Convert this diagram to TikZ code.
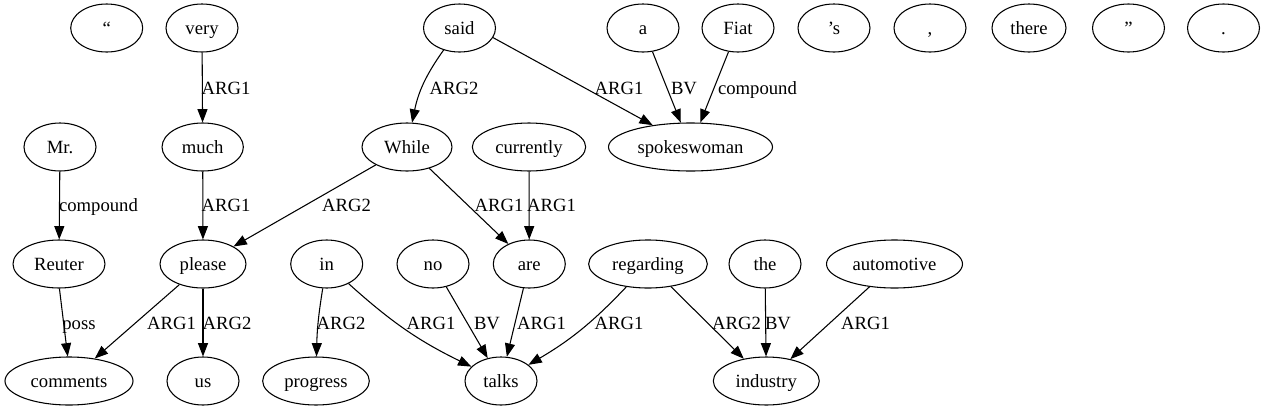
\documentclass[tikz,border=0pt]{standalone}
\usepackage{fontspec}
\setmainfont{Liberation Serif}
\usetikzlibrary{shapes.geometric,arrows.meta}
\begin{document}
\begin{tikzpicture}[x=0.75pt,y=-0.75pt,
  nd/.style={ellipse,draw,line width=0.8pt,inner sep=0pt,minimum height=36pt,minimum width=54pt,text height=12pt,text depth=3pt,font=\fontsize{14pt}{16pt}\selectfont},
  edge/.style={line width=0.8pt,-{Triangle[length=10pt,width=7.5pt]}},
  lab/.style={inner sep=0pt,text height=12pt,text depth=3pt,font=\fontsize{14pt}{16pt}\selectfont}]
\useasboundingbox (0,0) rectangle (1265,411);
% row 1
\node[nd] (lq) at (106.7,28) {“};
\node[nd] (very) at (202,28) {very};
\node[nd] (said) at (459.5,28) {said};
\node[nd] (a) at (643,28) {a};
\node[nd] (Fiat) at (738,28) {Fiat};
\node[nd] (apos) at (834,28) {’s};
\node[nd] (comma) at (930,28) {,};
\node[nd,minimum width=55.5pt] (there) at (1029,28) {there};
\node[nd] (rq) at (1128.5,28) {”};
\node[nd] (period) at (1223.5,28) {.};
% row 2
\node[nd] (Mr) at (60,147) {Mr.};
\node[nd,minimum width=61pt] (much) at (202.7,147) {much};
\node[nd,minimum width=67.5pt] (While) at (407,147) {While};
\node[nd,minimum width=85pt] (currently) at (529,147) {currently};
\node[nd,minimum width=123pt] (spokeswoman) at (690.5,147) {spokeswoman};
% row 3
\node[nd,minimum width=69pt] (Reuter) at (59,264) {Reuter};
\node[nd,minimum width=64.5pt] (please) at (203,264) {please};
\node[nd] (in) at (326.7,264) {in};
\node[nd] (no) at (433,264) {no};
\node[nd] (are) at (529.3,264) {are};
\node[nd,minimum width=89pt] (regarding) at (648,264) {regarding};
\node[nd] (the) at (765,264) {the};
\node[nd,minimum width=102pt] (automotive) at (894.5,264) {automotive};
% row 4
\node[nd,minimum width=96pt] (comments) at (69,381) {comments};
\node[nd] (us) at (203,381) {us};
\node[nd,minimum width=80pt] (progress) at (316,381) {progress};
\node[nd] (talks) at (501,381) {talks};
\node[nd,minimum width=79.5pt] (industry) at (766.3,381) {industry};
% edges
\draw[edge] (very) -- (much) node[lab] at (226,88) {ARG1};
\draw[edge] (said) to[bend right=12] (While) node[lab] at (454,88) {ARG2};
\draw[edge] (said.-16) -- (spokeswoman.150) node[lab] at (619,88) {ARG1};
\draw[edge] (a) -- (spokeswoman) node[lab] at (684,88) {BV};
\draw[edge] (Fiat) -- (spokeswoman) node[lab] at (757.5,88) {compound};
\draw[edge] (Mr) -- (Reuter) node[lab] at (98.5,205) {compound};
\draw[edge] (much) -- (please) node[lab] at (226,205) {ARG1};
\draw[edge] (While) -- (please) node[lab] at (346.5,205) {ARG2};
\draw[edge] (While) -- (are) node[lab] at (499,205) {ARG1};
\draw[edge] (currently) -- (are) node[lab] at (551.5,205) {ARG1};
\draw[edge] (Reuter.-89) -- (comments.93) node[lab] at (79,323) {poss};
\draw[edge] (please) -- (comments) node[lab] at (171.5,323) {ARG1};
\draw[edge] (please) -- (us) node[lab] at (227,323) {ARG2};
\draw[edge] (in) to[bend right=4] (progress) node[lab] at (341,323) {ARG2};
\draw[edge] (in) to[bend right=8] (talks) node[lab] at (431,323) {ARG1};
\draw[edge] (no) -- (talks) node[lab] at (487,323) {BV};
\draw[edge] (are) -- (talks) node[lab] at (541.5,323) {ARG1};
\draw[edge] (regarding) to[bend left=8] (talks) node[lab] at (619,323) {ARG1};
\draw[edge] (regarding) -- (industry) node[lab] at (736.5,323) {ARG2};
\draw[edge] (the) -- (industry) node[lab] at (778,323) {BV};
\draw[edge] (automotive) -- (industry) node[lab] at (865.5,323) {ARG1};
\end{tikzpicture}
\end{document}
